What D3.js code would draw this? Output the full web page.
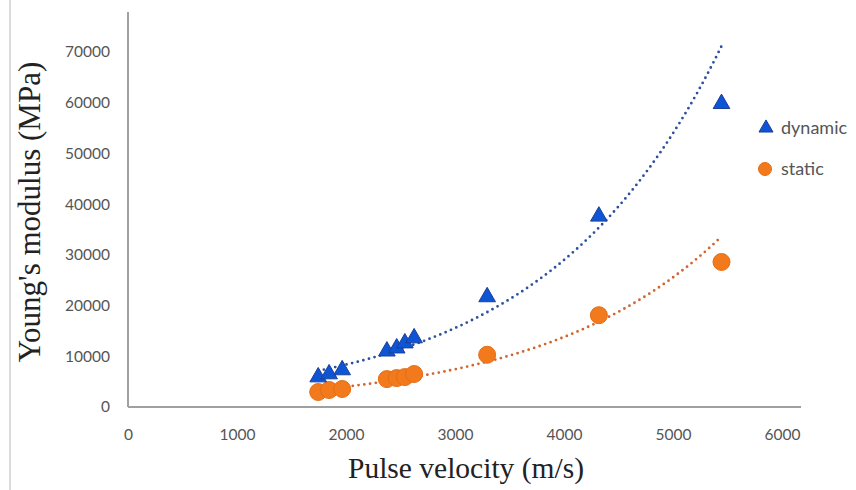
<!DOCTYPE html>
<html>
<head>
<meta charset="utf-8">
<script src="https://cdn.jsdelivr.net/npm/d3@7"></script>
<style>
  html, body { margin: 0; padding: 0; background: #fff; }
  svg { display: block; }
</style>
</head>
<body>
<script>
// Pulse velocity (m/s) for each specimen
const velocity = [1745, 1845, 1965, 2375, 2465, 2540, 2625, 3295, 4320, 5445];
// Young's modulus (MPa)
const dynamicModulus = [6100, 6700, 7500, 11200, 11800, 12800, 13800, 21900, 37800, 60000];
const staticModulus  = [2950, 3350, 3550, 5500, 5700, 5900, 6500, 10300, 18100, 28600];
const seriesNames = ["dynamic", "static"];
const xTicks = [0, 1000, 2000, 3000, 4000, 5000, 6000];
const yTicks = [0, 10000, 20000, 30000, 40000, 50000, 60000, 70000];

const W = 856, H = 490;
const svg = d3.select("body").append("svg").attr("width", W).attr("height", H);

const x = d3.scaleLinear().domain([0, 6000]).range([128, 782]);
const y = d3.scaleLinear().domain([0, 70000]).range([407, 52]);

// thin frame line on the left edge
svg.append("line").attr("x1", 10).attr("x2", 10).attr("y1", 0).attr("y2", H)
  .attr("stroke", "#dcdcdc").attr("stroke-width", 2);

// axes lines
svg.append("line").attr("x1", x(0)).attr("x2", 801).attr("y1", y(0)).attr("y2", y(0))
  .attr("stroke", "#a0a0a0").attr("stroke-width", 2);
svg.append("line").attr("x1", x(0)).attr("x2", x(0)).attr("y1", 12).attr("y2", y(0))
  .attr("stroke", "#a0a0a0").attr("stroke-width", 2);

const tickFont = "Lato, 'Open Sans', sans-serif";
// tick labels via d3 axes with lines hidden
const xAxis = svg.append("g").attr("transform", `translate(0,${y(0)})`)
  .call(d3.axisBottom(x).tickValues(xTicks).tickFormat(d3.format("d")).tickSize(0).tickPadding(22));
const yAxis = svg.append("g").attr("transform", `translate(${x(0)},0)`)
  .call(d3.axisLeft(y).tickValues(yTicks).tickFormat(d3.format("d")).tickSize(0).tickPadding(18));
[xAxis, yAxis].forEach(g => {
  g.select(".domain").remove();
  g.selectAll("text").attr("fill", "#555").style("font-family", tickFont).style("font-size", "15.5px");
});

// exponential trendline: least squares on ln(y)
function expFit(xs, ys) {
  const n = xs.length;
  const ly = ys.map(Math.log);
  const mx = d3.mean(xs), my = d3.mean(ly);
  let sxy = 0, sxx = 0;
  for (let i = 0; i < n; i++) { sxy += (xs[i] - mx) * (ly[i] - my); sxx += (xs[i] - mx) ** 2; }
  const b = sxy / sxx, a = Math.exp(my - b * mx);
  return v => a * Math.exp(b * v);
}

const line = d3.line().x(d => x(d[0])).y(d => y(d[1]));
function drawTrend(ys, color) {
  const f = expFit(velocity, ys);
  const [x0, x1] = d3.extent(velocity);
  const pts = d3.range(0, 101).map(i => { const v = x0 + (x1 - x0) * i / 100; return [v, f(v)]; });
  svg.append("path").attr("d", line(pts)).attr("fill", "none")
    .attr("stroke", color).attr("stroke-width", 2.8)
    .attr("stroke-linecap", "round").attr("stroke-dasharray", "0 5.8");
}
drawTrend(dynamicModulus, "#2c4f9e");
drawTrend(staticModulus, "#d2642c");

const tri = d3.symbol().type(d3.symbolTriangle).size(120);
const blueFill = "#0d55d4", blueStroke = "#1d3f96";
const orangeFill = "#f27a1c", orangeStroke = "#e56d14";

// static circles
svg.append("g").selectAll("circle").data(velocity.map((v, i) => [v, staticModulus[i]]))
  .join("circle").attr("cx", d => x(d[0])).attr("cy", d => y(d[1])).attr("r", 8.5)
  .attr("fill", orangeFill).attr("stroke", orangeStroke).attr("stroke-width", 1);

// dynamic triangles
svg.append("g").selectAll("path").data(velocity.map((v, i) => [v, dynamicModulus[i]]))
  .join("path").attr("d", tri).attr("transform", d => `translate(${x(d[0])},${y(d[1]) + 1})`)
  .attr("fill", blueFill).attr("stroke", blueStroke).attr("stroke-width", 1);

// legend
const legend = svg.append("g");
legend.append("path").attr("d", d3.symbol().type(d3.symbolTriangle).size(85))
  .attr("transform", "translate(766,128)").attr("fill", blueFill).attr("stroke", blueStroke);
legend.append("circle").attr("cx", 765).attr("cy", 169).attr("r", 6.5)
  .attr("fill", orangeFill).attr("stroke", orangeStroke);
legend.selectAll("text").data(seriesNames).join("text")
  .attr("x", 781).attr("y", (d, i) => 128 + i * 41).attr("dy", "0.35em")
  .attr("fill", "#555").style("font-family", tickFont).style("font-size", "18px")
  .text(d => d);

// axis titles
svg.append("text").attr("x", 466).attr("y", 478).attr("text-anchor", "middle")
  .style("font-family", "'Liberation Serif', 'Times New Roman', serif").style("font-size", "29.5px")
  .attr("fill", "#222").text("Pulse velocity (m/s)");
svg.append("text").attr("transform", "translate(40,212) rotate(-90)").attr("text-anchor", "middle")
  .style("font-family", "'Liberation Serif', 'Times New Roman', serif").style("font-size", "31px")
  .attr("fill", "#222").text("Young's modulus (MPa)");
</script>
</body>
</html>
